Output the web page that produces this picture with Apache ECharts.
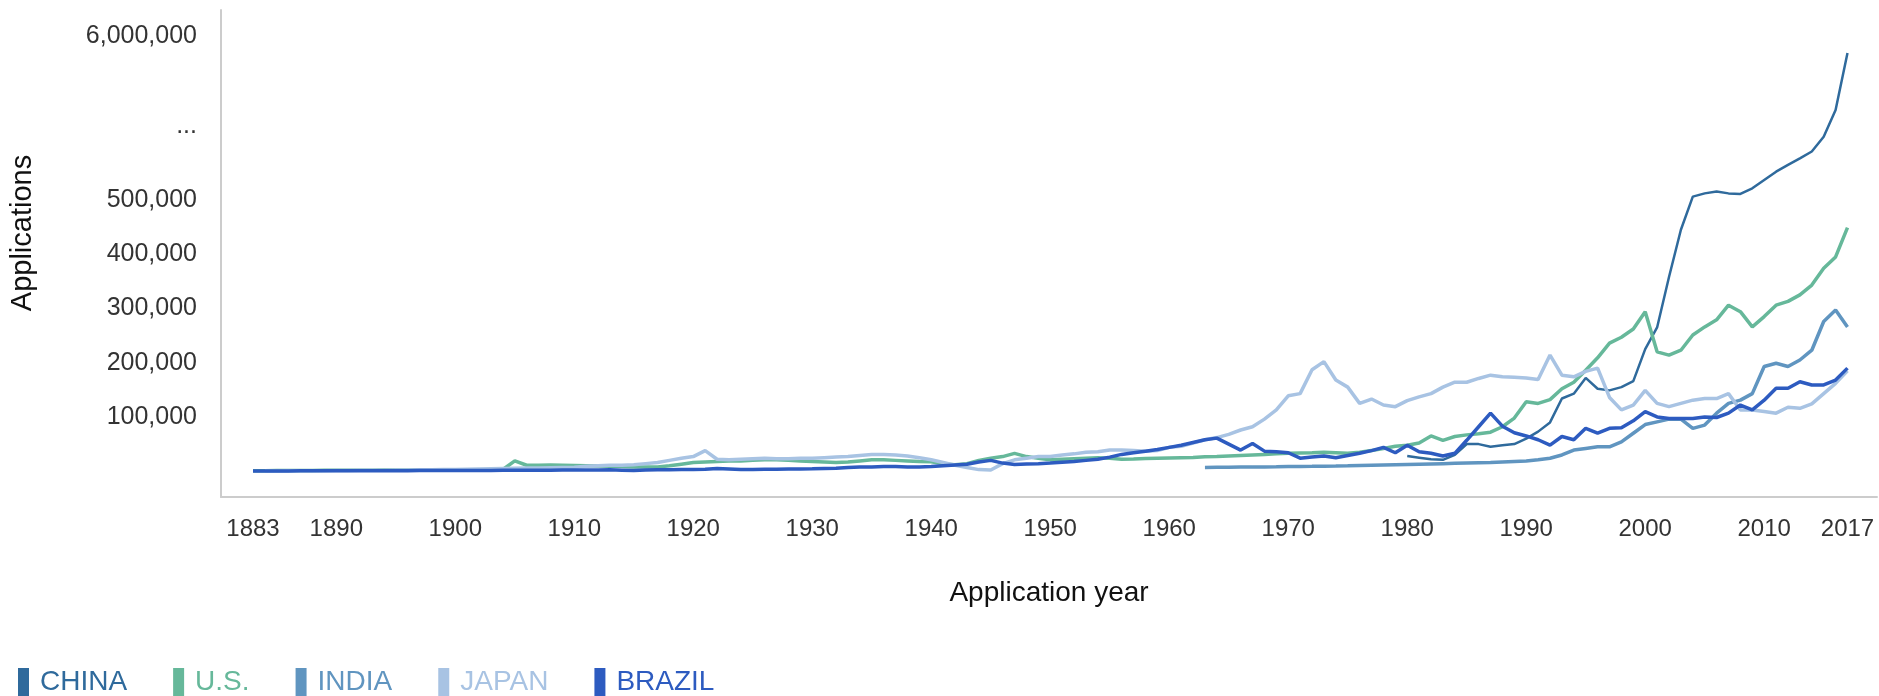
<!DOCTYPE html>
<html><head><meta charset="utf-8">
<script src="https://cdn.jsdelivr.net/npm/echarts@6/dist/echarts.min.js"></script>
<style>html,body{margin:0;padding:0;background:#fff}#c{width:1879px;height:696px}</style>
</head><body><div id="c"></div>
<script>
// ---- tick labels ----
const xTickYears = [1883,1890,1900,1910,1920,1930,1940,1950,1960,1970,1980,1990,2000,2010,2017];
const yTickValues = [100000,200000,300000,400000,500000,6000000];
const yGapLabelValue = 3000000; // position of the "..." break label

// ---- series (applications per year) ----
const seriesNames = ['CHINA','U.S.','INDIA','JAPAN','BRAZIL'];
const seriesColors = ['#2f6a9c','#66b89a','#6095c0','#a8c3e3','#2d5bc0'];

const chinaStart = 1980;
const chinaValues = [
  28000,25000,22000,21000,30000,50000,50000,45000,48000,50000,
  60000,73000,90000,134000,143000,172000,152000,149000,155000,166000,
  225000,265000,358000,445000,610000,720000,780000,720000,700000,890000,
  1170000,1450000,1680000,1900000,2130000,2630000,3530000,5450000
];

const usStart = 1883;
const usValues = [
  1000,1100,1200,1300,1400,1500,1600,
  1700,1800,1900,2000,2100,2200,2300,2400,2500,2600,
  2700,2800,2900,3000,3200,19000,11000,11000,11500,11000,
  10500,10000,9500,9000,8500,8000,8000,8000,10000,13000,
  16000,17000,18000,19000,19000,20000,21000,21000,20000,19000,
  18000,17000,16000,17000,19000,21000,21000,20000,19000,18000,
  17500,13500,12000,14000,20000,24000,27000,33000,27000,24000,
  21000,22000,23000,24000,25000,24000,22000,22500,23500,24000,
  24500,25000,25500,26500,27000,28000,29000,30000,31000,32000,
  33000,33500,34000,35000,34000,33000,35000,38000,42000,46000,
  48000,52000,65000,57000,64000,67000,69000,72000,82000,98000,
  128000,125000,132000,152000,164000,186000,209000,236000,247000,262000,
  294000,220000,214000,223000,251000,266000,279000,306000,294000,266000,
  285000,306000,313000,325000,343000,374000,395000,449000
];

const indiaStart = 1963;
const indiaValues = [
  7000,7200,7400,7600,7800,8000,8200,
  8500,8800,9000,9300,9600,10000,10500,11000,11500,12000,
  12500,13000,13500,14000,14500,15000,15500,16000,17000,18000,
  19000,21000,24000,30000,39000,42000,45000,45000,54000,70000,
  86000,91000,96000,96000,79000,85000,107000,125000,131000,143000,
  193000,199000,193000,205000,223000,276000,297000,266000
];

const japanStart = 1884;
const japanValues = [
  500,600,700,800,900,1000,
  1200,1400,1600,1800,2000,2200,2400,2600,2800,3000,
  3000,3500,4000,4500,5000,5500,6000,6000,6500,7000,
  7500,9000,10000,11000,11000,12000,14000,16000,20000,24000,
  27000,38000,22000,21000,22000,23000,24000,23000,23000,24000,
  24000,25000,26000,27000,29000,31000,31000,30000,28000,25000,
  21000,16000,11000,7000,3000,2300,14000,21000,24000,27000,
  27000,30000,32000,35000,36000,39000,39000,38000,37000,38000,
  44000,46000,52000,58000,62000,68000,76000,82000,96000,113000,
  139000,143000,187000,202000,168000,155000,125000,133000,122000,119000,
  130000,137000,143000,155000,164000,164000,171000,177000,174000,173000,
  172000,169000,214000,177000,174000,184000,190000,136000,113000,122000,
  149000,125000,119000,125000,131000,134000,134000,143000,113000,113000,
  110000,107000,118000,116000,124000,143000,162000,185000
];

const brazilStart = 1883;
const brazilValues = [
  500,500,600,600,700,700,800,
  800,900,900,1000,1000,1100,1100,1200,1200,1300,
  1300,1400,1500,1500,1600,1700,1800,1900,2000,2100,
  2200,2300,2400,2500,2000,1500,2200,2500,2800,3000,
  3200,3500,5000,4000,3000,3200,3500,3800,4000,4200,
  4500,5000,5500,7000,8000,8000,8500,8500,8000,8000,
  8500,10000,11500,13000,17000,20000,15000,12500,13500,14000,
  15000,16500,18000,20000,22000,26000,31000,34000,37000,40000,
  44000,48000,53000,58000,61000,50000,39000,51000,37000,36000,
  34000,24000,26000,28000,25000,29000,33000,38000,44000,34000,
  48000,36000,33000,28000,33000,57000,82000,107000,83000,71000,
  65000,58000,48000,64000,58000,79000,70000,79000,80000,93000,
  110000,100000,97000,97000,97000,100000,99000,107000,122000,113000,
  131000,153000,153000,165000,159000,159000,168000,190000
];

// ---- broken value axis: linear to 500,000, compressed above ----
const BREAK = 500000;
const UPPER_RATIO = 301000 / 5500000;
function T(v){ return v <= BREAK ? v : BREAK + (v - BREAK) * UPPER_RATIO; }

const starts = [chinaStart, usStart, indiaStart, japanStart, brazilStart];
const valueLists = [chinaValues, usValues, indiaValues, japanValues, brazilValues];
const widths = [2.5, 3.5, 3.5, 3.5, 3.5];

const labelMap = {};
yTickValues.forEach(v => { labelMap[Math.round(T(v))] = v.toLocaleString('en-US'); });
labelMap[Math.round(T(yGapLabelValue))] = '...';

const series = seriesNames.map((n, i) => ({
  name: n,
  type: 'line',
  showSymbol: false,
  symbol: 'none',
  color: seriesColors[i],
  lineStyle: { width: widths[i], color: seriesColors[i] },
  data: valueLists[i].map((v, k) => [starts[i] + k, T(v)])
}));

const FONT = 'Liberation Sans, Arial, sans-serif';
const chart = echarts.init(document.getElementById('c'));
chart.setOption({
  animation: false,
  textStyle: { fontFamily: FONT },
  grid: { left: 221, right: 2, top: 10, bottom: 199, containLabel: false },
  xAxis: {
    type: 'value', min: 1880.31, max: 2019.48,
    axisLine: { onZero: false, lineStyle: { color: '#cccccc', width: 2 } },
    axisTick: { show: false },
    splitLine: { show: false },
    axisLabel: { customValues: xTickYears, margin: 20, fontSize: 24, color: '#333', formatter: v => String(v) },
    name: 'Application year', nameLocation: 'middle', nameGap: 82,
    nameTextStyle: { fontSize: 28, color: '#111' }
  },
  yAxis: {
    type: 'value', min: -47500, max: 850000,
    axisLine: { show: true, lineStyle: { color: '#cccccc', width: 2 } },
    axisTick: { show: false },
    splitLine: { show: false },
    axisLabel: {
      customValues: yTickValues.concat([yGapLabelValue]).map(T),
      margin: 24, fontSize: 25, color: '#333',
      formatter: v => labelMap[Math.round(v)] || ''
    }
  },
  graphic: [{
    type: 'text', x: 23, y: 233, rotation: Math.PI / 2,
    style: { text: 'Applications', fontSize: 29, fill: '#111', fontFamily: FONT,
             align: 'center', verticalAlign: 'middle' }
  }],
  legend: {
    left: 18, top: 668, padding: 0, icon: 'rect', itemWidth: 11, itemHeight: 28, itemGap: 46,
    data: seriesNames.map((n, i) => ({ name: n, textStyle: { color: seriesColors[i] } })),
    textStyle: { fontSize: 28, padding: [0, 0, 0, 6] }
  },
  series: series
});
</script>
</body></html>
